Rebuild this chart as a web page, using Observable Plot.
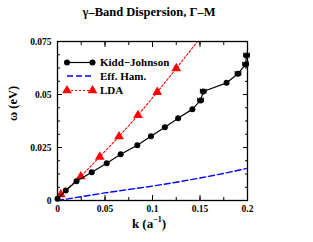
<!DOCTYPE html>
<html><head><meta charset="utf-8">
<script src="https://cdn.jsdelivr.net/npm/d3@7"></script>
<script src="https://cdn.jsdelivr.net/npm/@observablehq/plot@0.6"></script>
<style>
body{margin:0;background:#fff;}
#chart svg{font-family:"Liberation Serif","Times New Roman",serif;font-weight:bold;}
</style></head><body><div id="chart"></div>
<script>
const titleText = "γ–Band Dispersion, Γ–M";
const xLabelMain = "k (a";
const xLabelSup = "−1";
const yLabel = "ω (eV)";
const seriesNames = ["Kidd−Johnson", "Eff. Ham.", "LDA"];

const kjK = [0, 0.0087, 0.020, 0.036, 0.0518, 0.0665, 0.084, 0.0984, 0.113, 0.127, 0.142, 0.1506, 0.1534, 0.178, 0.190, 0.198, 0.199];
const kjW = [0.0008, 0.0047, 0.0091, 0.0133, 0.0176, 0.0218, 0.0261, 0.0303, 0.0346, 0.0388, 0.0431, 0.0472, 0.0514, 0.0555, 0.0598, 0.0642, 0.0684];
const kjErr = [0, 0, 0, 0, 0, 0, 0, 0, 0, 0, 0, 0.003, 0.003, 0, 0.003, 0.003, 0.003];

const effK = [0, 0.025, 0.05, 0.075, 0.1, 0.125, 0.15, 0.175, 0.2];
const effW = [0, 0.0018, 0.0036, 0.0052, 0.0068, 0.0086, 0.0106, 0.0128, 0.0152];

const ldaK = [0.0035, 0.0245, 0.0445, 0.0648, 0.0847, 0.105, 0.125, 0.165];
const ldaW = [0.0028, 0.0113, 0.0206, 0.0302, 0.0402, 0.0511, 0.0623, 0.085];

const xTicks = [0, 0.05, 0.1, 0.15, 0.2];
const xMinor = [0, 0.025, 0.05, 0.075, 0.1, 0.125, 0.15, 0.175, 0.2];
const yTicks = [0, 0.025, 0.05, 0.075];
const yMinor = [0, 0.00625, 0.0125, 0.01875, 0.025, 0.03125, 0.0375, 0.04375, 0.05, 0.05625, 0.0625, 0.06875, 0.075];

const kj = kjK.map((k, i) => ({k, w: kjW[i], e: kjErr[i]}));
const kjE = kj.filter(d => d.e > 0);
const eff = effK.map((k, i) => ({k, w: effW[i]}));
const lda = ldaK.map((k, i) => ({k, w: ldaW[i]}));
const capH = 0.0011;
const fmt = d => String(d);

const tickStyle = {stroke: "black", strokeWidth: 1, fill: "none", label: null};
const plot = Plot.plot({
  width: 313, height: 242,
  marginLeft: 57, marginRight: 66, marginTop: 41, marginBottom: 42,
  style: {fontFamily: "'Liberation Serif', serif", fontWeight: "bold", background: "white"},
  x: {domain: [0, 0.2]},
  y: {domain: [0, 0.075]},
  marks: [
    Plot.line(eff, {x: "k", y: "w", stroke: "#0000ff", strokeWidth: 1.4, strokeDasharray: "6,3", clip: true}),
    Plot.line(lda, {x: "k", y: "w", stroke: "#ff0000", strokeWidth: 1.1, strokeDasharray: "2,2", clip: true}),
    Plot.dot(lda, {x: "k", y: "w", symbol: "triangle", r: 3.6, fill: "#ff0000", clip: true}),
    Plot.line(kj, {x: "k", y: "w", stroke: "black", strokeWidth: 1.2}),
    Plot.link(kjE, {x1: d => d.k - d.e, x2: d => d.k + d.e, y1: "w", y2: "w", stroke: "black", strokeWidth: 1}),
    Plot.ruleX(kjE, {x: d => d.k - d.e, y1: d => d.w - capH, y2: d => d.w + capH, stroke: "black", strokeWidth: 1}),
    Plot.ruleX(kjE, {x: d => d.k + d.e, y1: d => d.w - capH, y2: d => d.w + capH, stroke: "black", strokeWidth: 1}),
    Plot.dot(kj, {x: "k", y: "w", r: 3, fill: "black"}),
    Plot.axisX(xTicks, {anchor: "bottom", tickSize: -5, ...tickStyle}),
    Plot.axisX(xMinor, {anchor: "bottom", tickSize: -3, ...tickStyle}),
    Plot.axisX(xTicks, {anchor: "top", tickSize: -5, ...tickStyle}),
    Plot.axisX(xMinor, {anchor: "top", tickSize: -3, ...tickStyle}),
    Plot.axisY(yTicks, {anchor: "left", tickSize: -5, ...tickStyle}),
    Plot.axisY(yMinor, {anchor: "left", tickSize: -3, ...tickStyle}),
    Plot.axisY(yTicks, {anchor: "right", tickSize: -5, ...tickStyle}),
    Plot.axisY(yMinor, {anchor: "right", tickSize: -3, ...tickStyle}),
    Plot.axisX(xTicks, {anchor: "bottom", tickSize: 0, tickPadding: 5, tickFormat: fmt, fontSize: 9.5, fill: "black", label: null}),
    Plot.axisY(yTicks, {anchor: "left", tickSize: 0, tickPadding: 6, tickFormat: fmt, fontSize: 9.5, fill: "black", label: null}),
    Plot.frame({stroke: "black", strokeWidth: 1.3}),
    Plot.text([yLabel], {frameAnchor: "left", dx: -45, rotate: -90, fontSize: 12.5, fontWeight: "bold", fill: "black"})
  ]
});
document.getElementById("chart").appendChild(plot);

const svg = d3.select(plot);
const ff = "'Liberation Serif', serif";
svg.append("text").attr("x", 149).attr("y", 16).attr("text-anchor", "middle")
  .attr("font-family", ff).attr("font-weight", "bold").attr("font-size", 12.5).attr("fill", "black").text(titleText);
const xl = svg.append("text").attr("x", 149).attr("y", 227.5).attr("text-anchor", "middle")
  .attr("font-family", ff).attr("font-weight", "bold").attr("font-size", 13).attr("fill", "black");
xl.append("tspan").text(xLabelMain);
xl.append("tspan").attr("font-size", 8).attr("dy", -5.5).text(xLabelSup);
xl.append("tspan").attr("dy", 5.5).text(")");

const lg = svg.append("g").attr("font-family", ff).attr("font-weight", "bold").attr("font-size", 11).attr("text-anchor", "start");
const ys = [62.5, 76, 90.5];
const x0 = 67, x1 = 92.5, tx = 100;
lg.append("line").attr("x1", x0).attr("x2", x1).attr("y1", ys[0]).attr("y2", ys[0]).attr("stroke", "black").attr("stroke-width", 1.2);
[x0, x1].forEach(x => lg.append("circle").attr("cx", x).attr("cy", ys[0]).attr("r", 3).attr("fill", "black"));
lg.append("line").attr("x1", x0).attr("x2", x1).attr("y1", ys[1]).attr("y2", ys[1]).attr("stroke", "#0000ff").attr("stroke-width", 1.4).attr("stroke-dasharray", "6,3");
lg.append("line").attr("x1", x0).attr("x2", x1).attr("y1", ys[2]).attr("y2", ys[2]).attr("stroke", "#ff0000").attr("stroke-width", 1.1).attr("stroke-dasharray", "2,2");
const tri = d3.symbol(d3.symbolTriangle, 3.6 * 3.6 * Math.PI)();
[x0, x1].forEach(x => lg.append("path").attr("d", tri).attr("transform", `translate(${x},${ys[2]})`).attr("fill", "#ff0000"));
seriesNames.forEach((n, i) => lg.append("text").attr("x", tx).attr("y", ys[i]).attr("dy", "0.35em").attr("text-anchor", "start").attr("fill", "black").text(n));
</script></body></html>
